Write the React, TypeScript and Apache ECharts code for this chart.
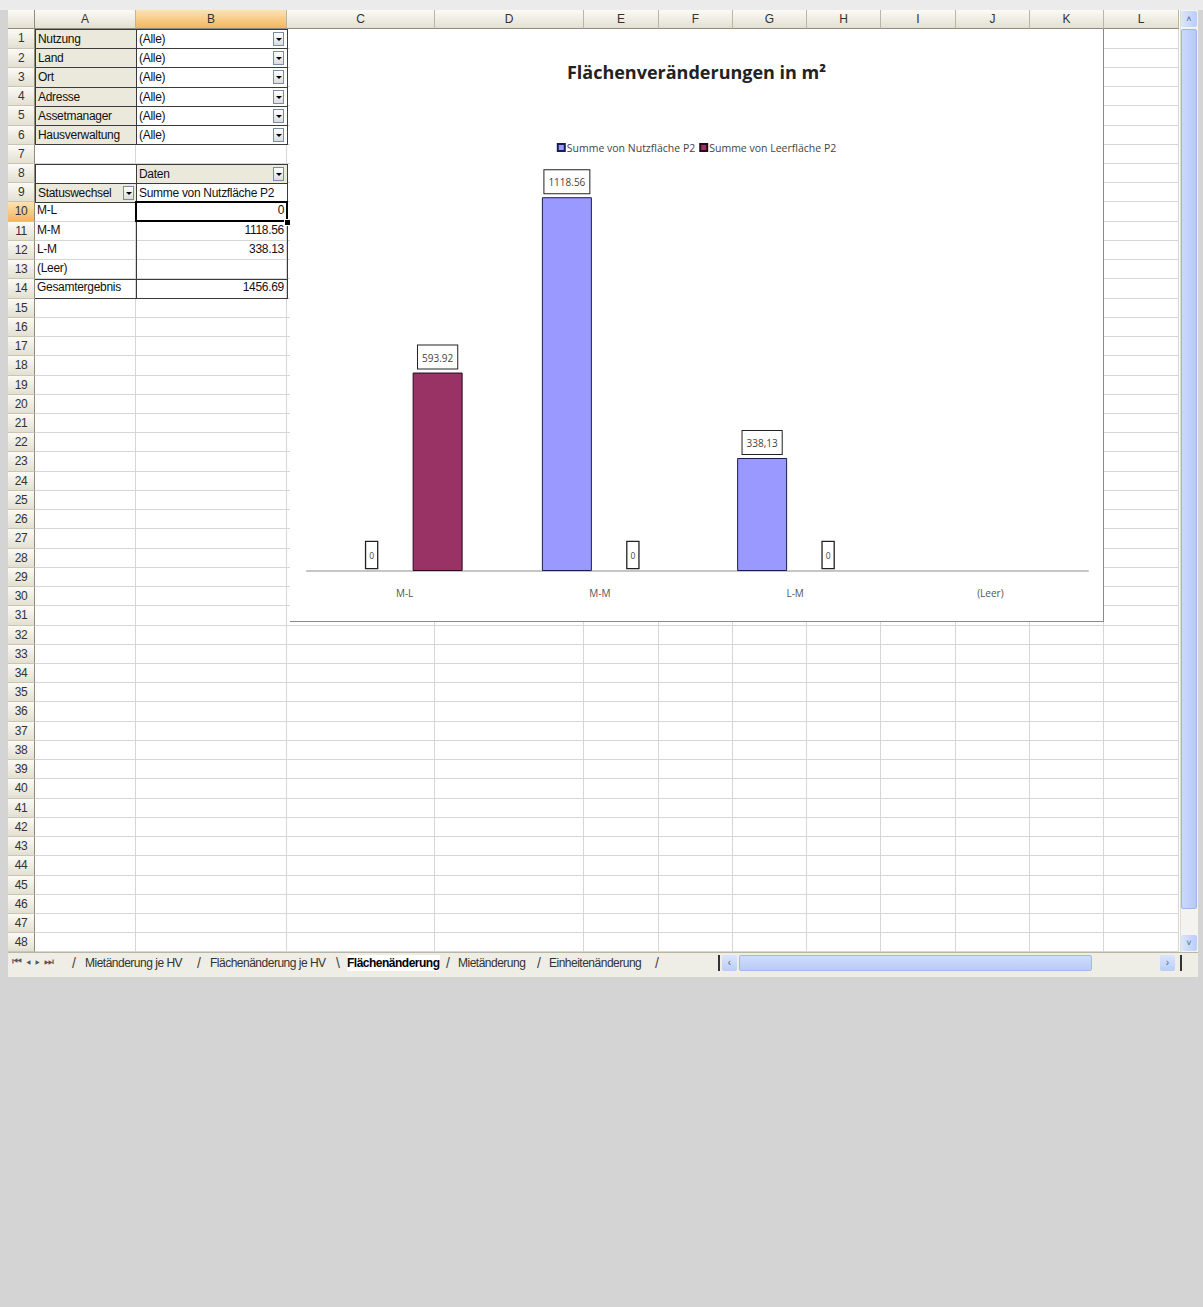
import React, { useEffect, useRef } from "react";
import * as echarts from "echarts";

// ---------- chart data ----------
const categories = ["M-L", "M-M", "L-M", "(Leer)"];
const nutzflaeche: (number | string)[] = [0, 1118.56, 338.13, "-"];
const leerflaeche: (number | string)[] = [593.92, 0, 0, "-"];
const nutzLabels = ["0", "1118.56", "338,13", ""];
const leerLabels = ["593.92", "0", "0", ""];
const seriesNames = ["Summe von Nutzfläche P2", "Summe von Leerfläche P2"];
const chartTitle = "Flächenveränderungen in m²";

// ---------- spreadsheet content ----------
const columnLetters = ["A", "B", "C", "D", "E", "F", "G", "H", "I", "J", "K", "L"];
const pageFields = ["Nutzung", "Land", "Ort", "Adresse", "Assetmanager", "Hausverwaltung"];
const pageFieldValue = "(Alle)";
const pivotRowLabels = ["M-L", "M-M", "L-M", "(Leer)", "Gesamtergebnis"];
const pivotValues = ["0", "1118.56", "338.13", "", "1456.69"];
const sheetTabs = ["Mietänderung je HV", "Flächenänderung je HV", "Flächenänderung", "Mietänderung", "Einheitenänderung"];
const activeTab = 2;

// layout
const colX = [35, 136, 287, 435, 584, 659, 733, 807, 881, 956, 1030, 1104, 1179];
const ROW0 = 29.4;
const RH = 19.23;
const NROWS = 48;
const rowTop = (i: number) => ROW0 + i * RH;

const cellFont = '"Liberation Sans", Arial, sans-serif';

function Chart() {
  const ref = useRef<HTMLDivElement>(null);
  useEffect(() => {
    if (!ref.current) return;
    const chart = echarts.init(ref.current, undefined, { renderer: "svg" });
    const valueLabel = {
      show: true,
      position: "top",
      distance: 4,
      padding: [7, 4, 6, 4],
      borderColor: "#222",
      borderWidth: 1,
      backgroundColor: "#fff",
      fontFamily: '"Open Sans", sans-serif',
      fontSize: 10,
      color: "#444",
    };
    const zeroLabel = { ...valueLabel, distance: 3, padding: [9, 3, 8, 3], fontSize: 8.5, borderWidth: 1.3 };
    const makeData = (vals: (number | string)[]) =>
      vals.map((v) =>
        v === 0
          ? { value: v, label: zeroLabel, itemStyle: { borderWidth: 0 } }
          : { value: v, label: valueLabel }
      );
    chart.setOption({
      animation: false,
      backgroundColor: "#fff",
      title: {
        text: chartTitle,
        left: "center",
        top: 29,
        textStyle: { fontFamily: '"Open Sans", sans-serif', fontWeight: "bold", fontSize: 18, color: "#222" },
      },
      legend: {
        top: 108,
        left: "center",
        itemWidth: 7,
        itemHeight: 7,
        itemGap: 4,
        icon: "rect",
        textStyle: { fontFamily: '"Open Sans", sans-serif', fontSize: 10.5, color: "#444", padding: [0, 0, 0, -3] },
        data: seriesNames,
      },
      grid: { left: 17, right: 15, top: 141, bottom: 50 },
      xAxis: {
        type: "category",
        data: categories,
        axisLine: { lineStyle: { color: "#c6c6c6", width: 2 } },
        axisTick: { show: false },
        axisLabel: { color: "#555", fontSize: 10, margin: 17, fontFamily: '"Open Sans", sans-serif' },
      },
      yAxis: { type: "value", show: false, min: 0, max: 1200, splitLine: { show: false } },
      series: [
        {
          name: seriesNames[0],
          type: "bar",
          barWidth: 50,
          barGap: "32%",
          data: makeData(nutzflaeche),
          itemStyle: { color: "#9999ff", borderColor: "#1c1c55", borderWidth: 1 },
          label: { formatter: (p: any) => nutzLabels[p.dataIndex] },
        },
        {
          name: seriesNames[1],
          type: "bar",
          barWidth: 50,
          data: makeData(leerflaeche),
          itemStyle: { color: "#993366", borderColor: "#2a0a18", borderWidth: 1 },
          label: { formatter: (p: any) => leerLabels[p.dataIndex] },
        },
      ],
    });
    return () => chart.dispose();
  }, []);
  return (
    <div
      ref={ref}
      style={{
        position: "absolute",
        left: 290,
        top: 29,
        width: 813,
        height: 592,
        borderRight: "1px solid #8a8a8a",
        borderBottom: "1px solid #8a8a8a",
        background: "#fff",
      }}
    />
  );
}

function Dropdown({ left, top }: { left: number; top: number }) {
  return (
    <div
      style={{
        position: "absolute",
        left,
        top,
        width: 11,
        height: 14,
        border: "1px solid #7a8ba8",
        background: "linear-gradient(#ffffff,#dcdcdc)",
        boxSizing: "border-box",
      }}
    >
      <div
        style={{
          position: "absolute",
          left: 2,
          top: 5,
          width: 0,
          height: 0,
          borderLeft: "3px solid transparent",
          borderRight: "3px solid transparent",
          borderTop: "3px solid #000",
        }}
      />
    </div>
  );
}

function Box(props: {
  x: number;
  y: number;
  w: number;
  h: number;
  bg?: string;
  border?: string;
  text?: string;
  align?: "left" | "right" | "center";
  bold?: boolean;
  extra?: React.CSSProperties;
}) {
  const { x, y, w, h, bg, border, text, align, bold, extra } = props;
  return (
    <div
      style={{
        position: "absolute",
        left: x,
        top: y,
        width: w,
        height: h,
        background: bg,
        border,
        boxSizing: "border-box",
        fontFamily: cellFont,
        fontSize: 12,
        lineHeight: `${h - 2}px`,
        textAlign: align || "left",
        paddingLeft: align === "right" ? 0 : 2,
        paddingRight: align === "right" ? 3 : 0,
        whiteSpace: "nowrap",
        overflow: "hidden",
        color: "#111",
        fontWeight: bold ? "bold" : "normal",
        letterSpacing: -0.3,
        ...extra,
      }}
    >
      {text}
    </div>
  );
}

export default function App() {
  const gridColor = "#d6d6d6";
  const hdrBg = "linear-gradient(#fbfaf5,#e3e0d2)";
  const selBg = "linear-gradient(#fbe3b2,#f3b660)";
  const elems: React.ReactNode[] = [];

  // grid lines
  for (let i = 1; i <= NROWS; i++) {
    elems.push(
      <div key={"h" + i} style={{ position: "absolute", left: 35, top: rowTop(i) - 1, width: colX[12] - 35, height: 1, background: gridColor }} />
    );
  }
  colX.forEach((x, i) => {
    if (i === 0) return;
    elems.push(
      <div key={"v" + i} style={{ position: "absolute", left: x - 1, top: ROW0, width: 1, height: rowTop(NROWS) - ROW0, background: gridColor }} />
    );
  });

  // column headers
  columnLetters.forEach((c, i) => {
    elems.push(
      <div
        key={"ch" + i}
        style={{
          position: "absolute",
          left: colX[i],
          top: 10,
          width: colX[i + 1] - colX[i],
          height: ROW0 - 10,
          background: i === 1 ? selBg : hdrBg,
          borderRight: "1px solid #b9b6a6",
          borderBottom: "1px solid #8f8c7c",
          boxSizing: "border-box",
          textAlign: "center",
          fontFamily: cellFont,
          fontSize: 12,
          lineHeight: "18px",
          color: "#333",
        }}
      >
        {c}
      </div>
    );
  });
  // corner
  elems.push(
    <div key="corner" style={{ position: "absolute", left: 8, top: 10, width: 27, height: ROW0 - 10, background: hdrBg, borderRight: "1px solid #8f8c7c", borderBottom: "1px solid #8f8c7c", boxSizing: "border-box" }} />
  );
  // row headers
  for (let i = 0; i < NROWS; i++) {
    elems.push(
      <div
        key={"rh" + i}
        style={{
          position: "absolute",
          left: 8,
          top: rowTop(i),
          width: 27,
          height: RH,
          background: i === 9 ? selBg : hdrBg,
          borderRight: "1px solid #8f8c7c",
          borderBottom: "1px solid #c9c6b6",
          boxSizing: "border-box",
          textAlign: "center",
          fontFamily: cellFont,
          fontSize: 12,
          lineHeight: `${RH}px`,
          color: "#333",
          letterSpacing: -0.5,
        }}
      >
        {i + 1}
      </div>
    );
  }

  // page fields
  const beige = "#ebe9dc";
  const dark = "1px solid #3a3a3a";
  pageFields.forEach((f, i) => {
    const y = rowTop(i);
    elems.push(<Box key={"pf" + i} x={35} y={y - 0.5} w={102} h={RH + 1} bg={beige} border={dark} text={f} />);
    elems.push(<Box key={"pv" + i} x={136} y={y - 0.5} w={152} h={RH + 1} bg="#fff" border={dark} text={pageFieldValue} />);
    elems.push(<Dropdown key={"pd" + i} left={273} top={y + 2.5} />);
  });
  // row 8 / 9
  elems.push(<Box key="a8" x={35} y={rowTop(7) - 0.5} w={102} h={RH + 1} bg="#fff" border={dark} />);
  elems.push(<Box key="b8" x={136} y={rowTop(7) - 0.5} w={152} h={RH + 1} bg={beige} border={dark} text="Daten" />);
  elems.push(<Dropdown key="d8" left={273} top={rowTop(7) + 2.5} />);
  elems.push(<Box key="a9" x={35} y={rowTop(8) - 0.5} w={102} h={RH + 1} bg={beige} border={dark} text="Statuswechsel" />);
  elems.push(<Dropdown key="d9" left={123} top={rowTop(8) + 2.5} />);
  elems.push(<Box key="b9" x={136} y={rowTop(8) - 0.5} w={152} h={RH + 1} bg="#fff" border={dark} text="Summe von Nutzfläche P2" />);

  // pivot rows
  pivotRowLabels.forEach((r, i) => {
    const y = rowTop(9 + i);
    elems.push(<Box key={"pr" + i} x={35} y={y} w={101} h={RH - 1} text={r} />);
    elems.push(<Box key={"pvv" + i} x={136} y={y} w={151} h={RH - 1} text={pivotValues[i]} align="right" />);
  });
  // pivot borders
  elems.push(<div key="pb1" style={{ position: "absolute", left: 135.5, top: rowTop(9), width: 1, height: RH * 5, background: "#3a3a3a" }} />);
  elems.push(<div key="pb2" style={{ position: "absolute", left: 287, top: rowTop(9), width: 1, height: RH * 5, background: "#3a3a3a" }} />);
  elems.push(<div key="pb3" style={{ position: "absolute", left: 35, top: rowTop(13) - 0.5, width: 253, height: 1, background: "#3a3a3a" }} />);
  elems.push(<div key="pb4" style={{ position: "absolute", left: 35, top: rowTop(14) - 0.5, width: 253, height: 1, background: "#3a3a3a" }} />);
  // selected cell B10
  elems.push(
    <div key="sel" style={{ position: "absolute", left: 135, top: rowTop(9) - 1, width: 153, height: RH + 1, border: "2px solid #000", boxSizing: "border-box" }} />
  );
  elems.push(<div key="selh" style={{ position: "absolute", left: 284, top: rowTop(10) - 3, width: 5, height: 5, background: "#000", border: "1px solid #fff" }} />);

  // vertical scrollbar
  const vsTop = 10;
  const vsBottom = rowTop(NROWS);
  elems.push(
    <div key="vs" style={{ position: "absolute", left: 1180, top: vsTop, width: 18, height: vsBottom - vsTop, background: "#f4f3ee", borderLeft: "1px solid #e0ded2", boxSizing: "border-box" }} />
  );
  elems.push(
    <div key="vsu" style={{ position: "absolute", left: 1181, top: vsTop + 1, width: 16, height: 16, background: "linear-gradient(90deg,#dbe6fd,#b9cdf7)", borderRadius: 2, textAlign: "center", fontSize: 9, lineHeight: "16px", color: "#4d6185", fontFamily: cellFont }}>
      ˄
    </div>
  );
  elems.push(
    <div key="vst" style={{ position: "absolute", left: 1181, top: vsTop + 19, width: 16, height: 880, background: "linear-gradient(90deg,#cbd9fb,#b6c9f6)", border: "1px solid #9fb5e6", borderRadius: 2, boxSizing: "border-box" }} />
  );
  elems.push(
    <div key="vsd" style={{ position: "absolute", left: 1181, top: vsBottom - 17, width: 16, height: 16, background: "linear-gradient(90deg,#dbe6fd,#b9cdf7)", borderRadius: 2, textAlign: "center", fontSize: 9, lineHeight: "16px", color: "#4d6185", fontFamily: cellFont }}>
      ˅
    </div>
  );

  // tab bar
  const tabY = rowTop(NROWS);
  elems.push(
    <div key="tb" style={{ position: "absolute", left: 8, top: tabY, width: 1190, height: 977 - tabY, background: "#eeede6", borderTop: "1px solid #b9b6a6", boxSizing: "border-box" }} />
  );
  elems.push(
    <div key="nav" style={{ position: "absolute", left: 12, top: tabY + 3, fontFamily: cellFont, fontSize: 11, color: "#555", letterSpacing: 4 }}>
      ⏮◂▸⏭
    </div>
  );
  const tabX = [85, 210, 347, 458, 549];
  const sepX = [72, 197, 336, 446, 537, 655];
  sheetTabs.forEach((t, i) => {
    elems.push(
      <div
        key={"tab" + i}
        style={{
          position: "absolute",
          left: tabX[i],
          top: tabY + 3,
          fontFamily: cellFont,
          fontSize: 12,
          lineHeight: "16px",
          color: i === activeTab ? "#000" : "#333",
          fontWeight: i === activeTab ? "bold" : "normal",
          letterSpacing: -0.5,
          background: i === activeTab ? "#fff" : "transparent",
          whiteSpace: "nowrap",
        }}
      >
        {t}
      </div>
    );
  });
  sepX.forEach((x, i) => {
    elems.push(
      <div key={"sep" + i} style={{ position: "absolute", left: x, top: tabY + 2, fontFamily: cellFont, fontSize: 14, lineHeight: "18px", color: "#444" }}>
        {i === 2 ? "\\" : "/"}
      </div>
    );
  });
  // horizontal scrollbar
  elems.push(<div key="hsl" style={{ position: "absolute", left: 718, top: tabY + 3, width: 2, height: 16, background: "#333" }} />);
  elems.push(
    <div key="hsa" style={{ position: "absolute", left: 722, top: tabY + 3, width: 15, height: 16, background: "linear-gradient(#dbe6fd,#b9cdf7)", borderRadius: 2, fontSize: 10, lineHeight: "16px", textAlign: "center", color: "#4d6185", fontFamily: cellFont }}>
      ‹
    </div>
  );
  elems.push(
    <div key="hst" style={{ position: "absolute", left: 739, top: tabY + 3, width: 353, height: 16, background: "linear-gradient(#cfdcfb,#b9cbf6)", border: "1px solid #a3b8e6", borderRadius: 2, boxSizing: "border-box" }} />
  );
  elems.push(
    <div key="hsb" style={{ position: "absolute", left: 1160, top: tabY + 3, width: 15, height: 16, background: "linear-gradient(#dbe6fd,#b9cdf7)", borderRadius: 2, fontSize: 10, lineHeight: "16px", textAlign: "center", color: "#4d6185", fontFamily: cellFont }}>
      ›
    </div>
  );
  elems.push(<div key="hsr" style={{ position: "absolute", left: 1180, top: tabY + 3, width: 2, height: 16, background: "#333" }} />);

  return (
    <div style={{ position: "fixed", left: 0, top: 0, width: 1203, height: 1307, background: "#d4d4d4", overflow: "hidden" }}>
      <div style={{ position: "absolute", left: 0, top: 0, width: 1203, height: 10, background: "#ebebeb" }} />
      <div style={{ position: "absolute", left: 8, top: 10, width: 1190, height: 967, background: "#fff" }} />
      {elems}
      <Chart />
    </div>
  );
}
